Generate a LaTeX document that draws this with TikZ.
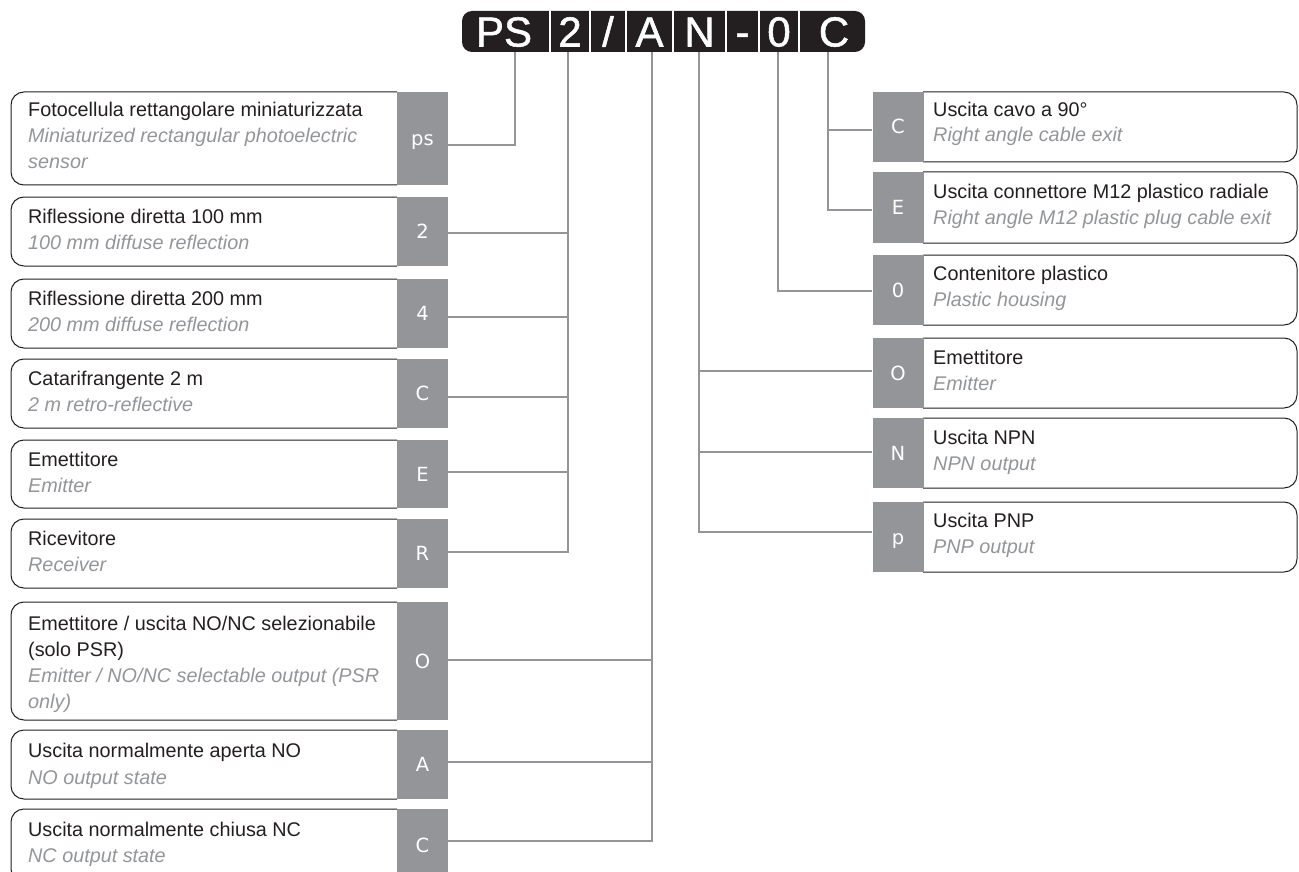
\documentclass[tikz,border=0pt]{standalone}
\usepackage{fontspec}
\setmainfont{Liberation Sans}
\newfontfamily\codefont{DejaVu Sans}
\newfontfamily\hdrfont{Liberation Sans}[FakeBold=1.2]
\definecolor{cgray}{HTML}{939598}
\definecolor{cink}{HTML}{231F20}
\newcommand{\lrow}[4]{%
  \draw[frameline] (397,#2) -- (11,#2) -- (11,#3) -- (397,#3);
  \node[graybox, minimum height={#3-#2}] (#1) at (422.5,{(#2+#3)/2}) {#4};
}
\newcommand{\rrow}[4]{%
  \draw[frameline] (923,#2) -- (1297,#2) -- (1297,#3) -- (923,#3);
  \node[graybox, minimum height={#3-#2}] (#1) at (898,{(#2+#3)/2}) {#4};
}
\begin{document}
\begin{tikzpicture}[x=1pt,y=-1pt,
  graybox/.style={fill=cgray, draw=none, minimum width=51, inner sep=0, text=white,
    text height=14, text depth=0, font=\codefont\fontsize{19.5}{19.5}\selectfont},
  frameline/.style={draw=cink, line width=1, rounded corners=13},
  conn/.style={draw=cgray, line width=2},
  ttl/.style={anchor=base west, inner sep=0, text=cink, font=\fontsize{19.8}{24}\selectfont},
  itl/.style={anchor=base west, inner sep=0, text=cgray, font=\itshape\fontsize{19.8}{24}\selectfont},
  hdrletter/.style={anchor=base, inner sep=0, text=white, font=\hdrfont\fontsize{42}{42}\selectfont}]
\useasboundingbox (0,0) rectangle (1299,872);

% header
\node[fill=cink, rounded corners=10, minimum width=403, minimum height=41, inner sep=0] (hdr) at (663.5,31.5) {};
\foreach \sx in {550,590,626,673,726,759,799}
  \draw[white, line width=2] (\sx,11) -- (\sx,52);
\node[hdrletter] (hPS) at (504,46.5) {PS};
\node[hdrletter] (h2) at (570,46.5) {2};
\node[hdrletter] (hsl) at (608,46.5) {/};
\node[hdrletter] (hA) at (649.5,46.5) {A};
\node[hdrletter] (hN) at (699.5,46.5) {N};
\node[hdrletter] (hdash) at (742.5,46.5) {-};
\node[hdrletter] (h0) at (779,46.5) {0};
\node[hdrletter] (hC) at (834,46.5) {C};

% left rows
\lrow{gps}{92}{185}{ps}
\lrow{g2}{197}{266}{2}
\lrow{g4}{279}{348}{4}
\lrow{gC}{359}{428}{C}
\lrow{gE}{440}{508}{E}
\lrow{gR}{519}{588}{R}
\lrow{gO}{602}{720}{O}
\lrow{gA}{730}{799}{A}
\lrow{gNC}{809}{882}{C}

\node[ttl] (t1a) at (28,117) {Fotocellula rettangolare miniaturizzata};
\node[itl] (t1b) at (28,143) {Miniaturized rectangular photoelectric};
\node[itl] (t1c) at (28,168) {sensor};
\node[ttl] (t2a) at (28,223) {Riflessione diretta 100 mm};
\node[itl] (t2b) at (28,249) {100 mm diffuse reflection};
\node[ttl] (t3a) at (28,305) {Riflessione diretta 200 mm};
\node[itl] (t3b) at (28,331) {200 mm diffuse reflection};
\node[ttl] (t4a) at (28,385) {Catarifrangente 2 m};
\node[itl] (t4b) at (28,411) {2 m retro-reflective};
\node[ttl] (t5a) at (28,466) {Emettitore};
\node[itl] (t5b) at (28,492) {Emitter};
\node[ttl] (t6a) at (28,545) {Ricevitore};
\node[itl] (t6b) at (28,571) {Receiver};
\node[ttl] (t7a) at (28,630) {Emettitore / uscita NO/NC selezionabile};
\node[ttl] (t7b) at (28,656) {(solo PSR)};
\node[itl] (t7c) at (28,682) {Emitter / NO/NC selectable output (PSR};
\node[itl] (t7d) at (28,708) {only)};
\node[ttl] (t8a) at (28,757) {Uscita normalmente aperta NO};
\node[itl] (t8b) at (28,784) {NO output state};
\node[ttl] (t9a) at (28,836) {Uscita normalmente chiusa NC};
\node[itl] (t9b) at (28,862) {NC output state};

% right rows
\rrow{rC}{92}{162}{C}
\rrow{rE}{172}{243}{E}
\rrow{r0}{255}{325}{0}
\rrow{rO}{338}{408}{O}
\rrow{rN}{418}{488}{N}
\rrow{rP}{502}{572}{p}

\node[ttl] (u1a) at (933,117) {Uscita cavo a 90°};
\node[itl] (u1b) at (933,142) {Right angle cable exit};
\node[ttl] (u2a) at (933,198) {Uscita connettore M12 plastico radiale};
\node[itl] (u2b) at (933,224) {Right angle M12 plastic plug cable exit};
\node[ttl] (u3a) at (933,280) {Contenitore plastico};
\node[itl] (u3b) at (933,306) {Plastic housing};
\node[ttl] (u4a) at (933,364) {Emettitore};
\node[itl] (u4b) at (933,390) {Emitter};
\node[ttl] (u5a) at (933,444) {Uscita NPN};
\node[itl] (u5b) at (933,470) {NPN output};
\node[ttl] (u6a) at (933,527) {Uscita PNP};
\node[itl] (u6b) at (933,553) {PNP output};

% connectors
\coordinate (bps) at (515,145);
\draw[conn] (gps.east |- bps) -- (bps) -- (bps |- hdr.south);

\coordinate (b2) at (568,552);
\draw[conn] (gR.east |- b2) -- (b2) -- (b2 |- hdr.south);
\draw[conn] (g2.east |- 0,233) -- (568,233);
\draw[conn] (g4.east |- 0,317) -- (568,317);
\draw[conn] (gC.east |- 0,397) -- (568,397);
\draw[conn] (gE.east |- 0,472) -- (568,472);

\coordinate (bA) at (652,841);
\draw[conn] (gNC.east |- bA) -- (bA) -- (bA |- hdr.south);
\draw[conn] (gO.east |- 0,660) -- (652,660);
\draw[conn] (gA.east |- 0,762) -- (652,762);

\coordinate (bN) at (699,532);
\draw[conn] (rP.west |- bN) -- (bN) -- (bN |- hdr.south);
\draw[conn] (rO.west |- 0,371) -- (699,371);
\draw[conn] (rN.west |- 0,452) -- (699,452);

\coordinate (b0) at (778,291);
\draw[conn] (r0.west |- b0) -- (b0) -- (b0 |- hdr.south);

\coordinate (bC) at (828,210);
\draw[conn] (rE.west |- bC) -- (bC) -- (bC |- hdr.south);
\draw[conn] (rC.west |- 0,130) -- (828,130);
\end{tikzpicture}
\end{document}
